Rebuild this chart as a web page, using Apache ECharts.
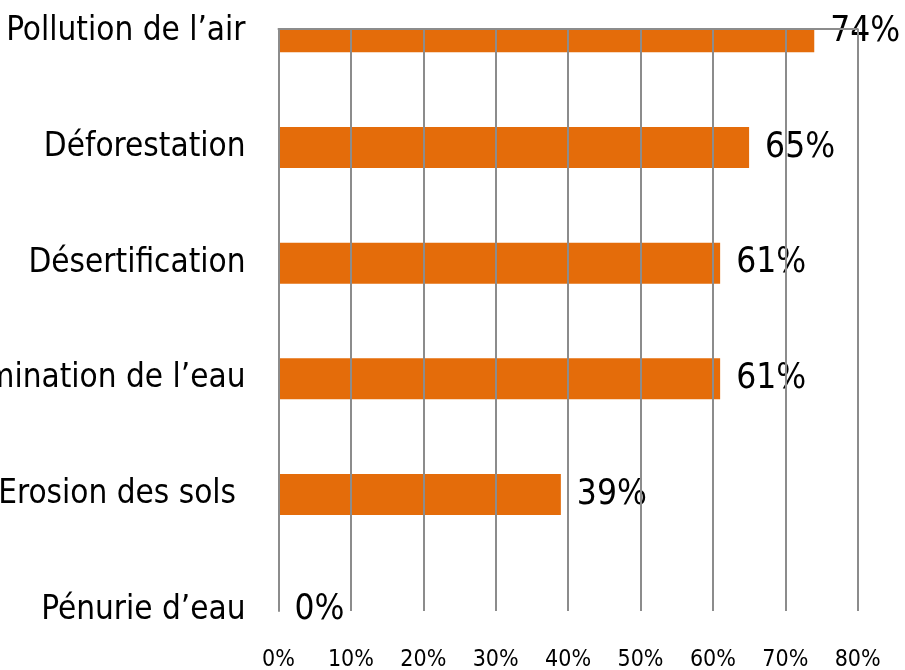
<!DOCTYPE html>
<html>
<head>
<meta charset="utf-8">
<script src="https://cdn.jsdelivr.net/npm/echarts@6/dist/echarts.min.js"></script>
<style>
html,body{margin:0;padding:0;background:#fff;}
#chart{width:905px;height:670px;}
</style>
</head>
<body>
<div id="chart"></div>
<script>
const categories = ["Pollution de l’air", "Déforestation", "Désertification", "Contamination de l’eau", "Erosion des sols ", "Pénurie d’eau"];
const values = [74, 65, 61, 61, 39, 0];
const xTicks = [0, 10, 20, 30, 40, 50, 60, 70, 80];

const FONT = "'Liberation Sans Narrow', 'DejaVu Sans Condensed', sans-serif";
const chart = echarts.init(document.getElementById('chart'), null, {renderer: 'canvas'});
const gridLeft = 278.5, gridRight = 47.3;

chart.setOption({
  animation: false,
  backgroundColor: '#ffffff',
  grid: [
    {left: gridLeft, right: gridRight, top: -26, height: 694, containLabel: false, outerBoundsMode: 'none'},
    {left: gridLeft, right: gridRight, top: 29, height: 582, containLabel: false, outerBoundsMode: 'none'}
  ],
  xAxis: [
    {gridIndex: 0, type: 'value', min: xTicks[0], max: xTicks[xTicks.length - 1], interval: 10, show: false},
    {gridIndex: 1, type: 'value', position: 'top', min: xTicks[0], max: xTicks[xTicks.length - 1], interval: 10, z: 10,
      axisLine: {show: true, onZero: false, lineStyle: {color: '#8c8c8c', width: 2}},
      axisTick: {show: false}, axisLabel: {show: false},
      splitLine: {show: true, lineStyle: {color: '#8c8c8c', width: 2}}},
    {gridIndex: 1, type: 'value', position: 'bottom', min: xTicks[0], max: xTicks[xTicks.length - 1], interval: 10,
      axisLine: {show: false, onZero: false}, axisTick: {show: false}, splitLine: {show: false},
      axisLabel: {show: true, margin: 38, color: '#000', fontFamily: FONT, fontSize: 23,
        formatter: v => v + '%'}}
  ],
  yAxis: [
    {gridIndex: 0, type: 'category', inverse: true, data: categories,
      axisLine: {show: false}, axisTick: {show: false}, splitLine: {show: false},
      axisLabel: {margin: 33, color: '#000', fontFamily: FONT, fontSize: 33}},
    {gridIndex: 1, type: 'value', min: 0, max: 1, z: 10,
      axisLine: {show: true, onZero: false, lineStyle: {color: '#8c8c8c', width: 2}},
      axisTick: {show: false}, axisLabel: {show: false}, splitLine: {show: false}}
  ],
  graphic: [
    {type: 'rect', z: 5, shape: {x: gridLeft - 3, y: 0, width: 830 - gridLeft + 3, height: 29}, style: {fill: '#ffffff'}}
  ],
  series: [{
    type: 'bar', xAxisIndex: 0, yAxisIndex: 0, z: 3,
    data: values, barWidth: 41,
    itemStyle: {color: '#E46C0A'},
    label: {show: true, position: 'right', distance: 16, color: '#000', fontFamily: FONT, fontSize: 35,
      formatter: p => p.value + '%'}
  }]
});
</script>
</body>
</html>
